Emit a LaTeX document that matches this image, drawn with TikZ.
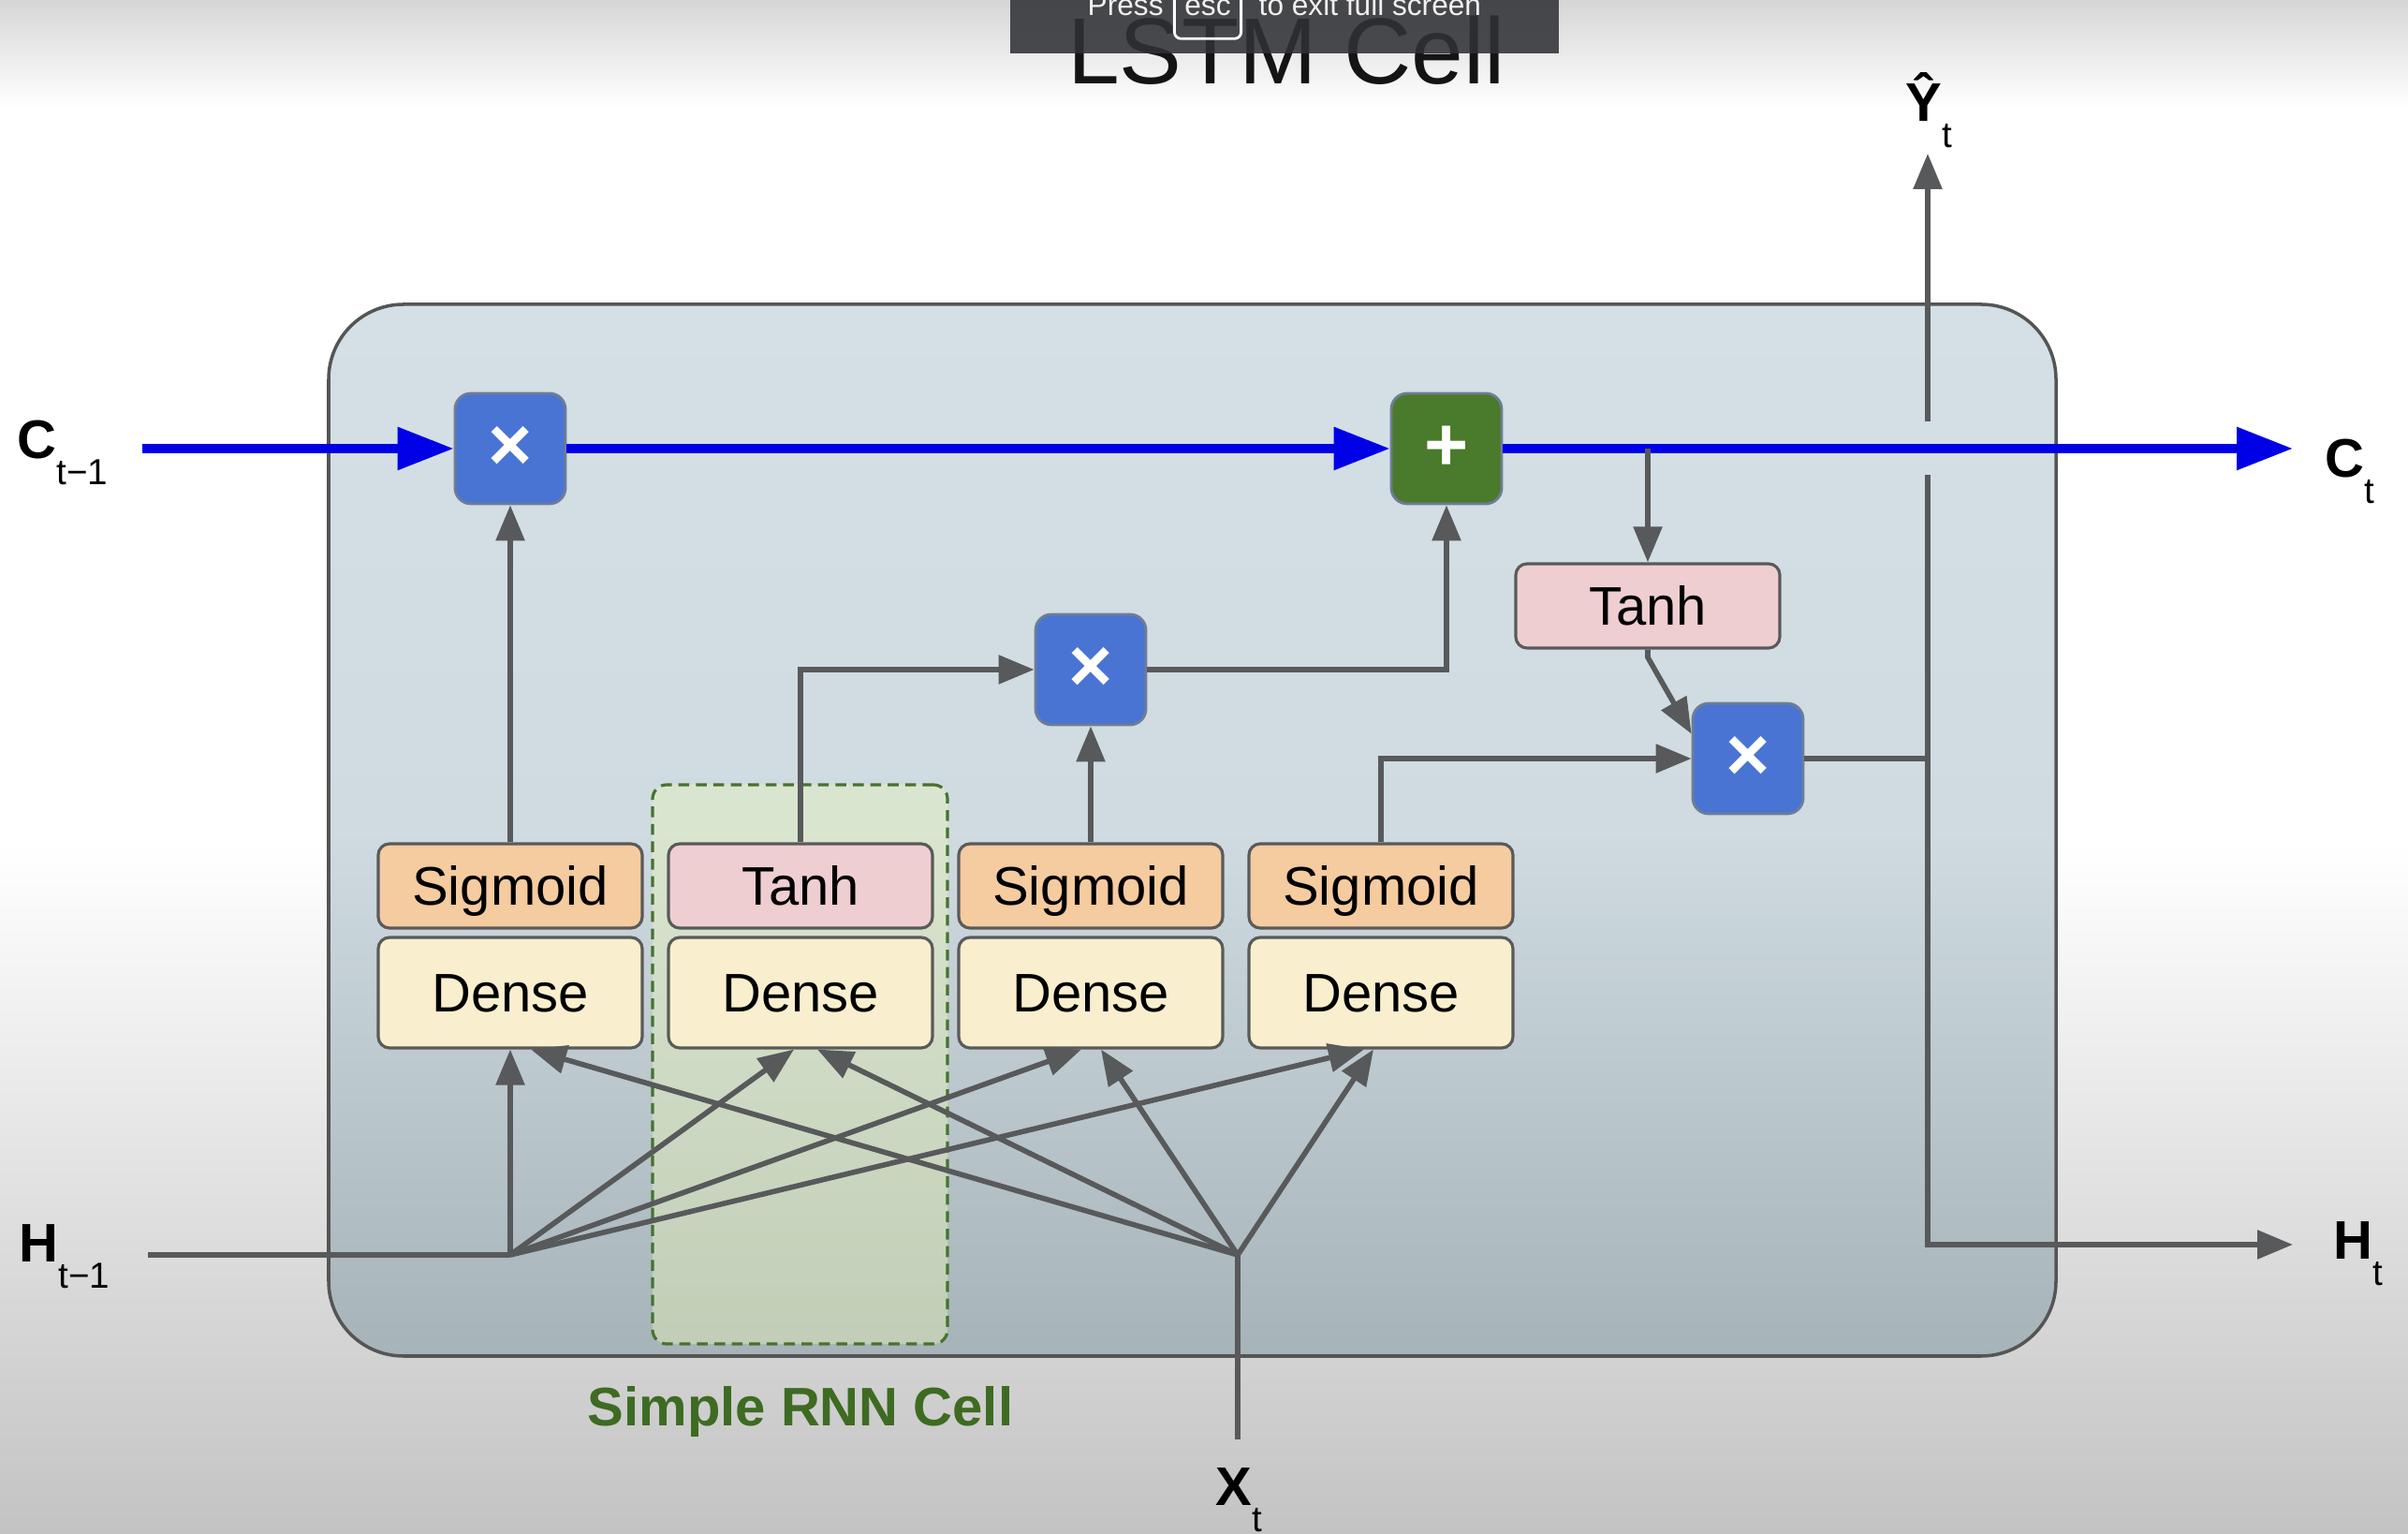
\documentclass[tikz,border=0pt]{standalone}
\usepackage{fontspec}
\setmainfont{Liberation Sans}
\usetikzlibrary{arrows.meta}
\definecolor{cellblue}{RGB}{0,0,230}
\definecolor{arrgray}{RGB}{88,89,91}
\definecolor{boxline}{RGB}{90,90,90}
\definecolor{cellline}{RGB}{85,85,85}
\definecolor{sigfill}{RGB}{245,203,160}
\definecolor{tanhfill}{RGB}{239,206,209}
\definecolor{densefill}{RGB}{249,239,206}
\definecolor{mulfill}{RGB}{73,116,212}
\definecolor{addfill}{RGB}{74,122,43}
\definecolor{opline}{RGB}{110,125,150}
\definecolor{celltop}{RGB}{212,224,230}
\definecolor{cellmid}{RGB}{207,219,225}
\definecolor{cellbot}{RGB}{166,179,184}
\definecolor{rnnfill}{RGB}{235,245,180}
\definecolor{rnnline}{RGB}{70,115,45}
\definecolor{rnntext}{RGB}{62,107,34}
\definecolor{pagetop}{RGB}{214,214,214}
\definecolor{pagebot}{RGB}{195,195,195}
\definecolor{ovfill}{RGB}{48,49,54}
\definecolor{ovtext}{RGB}{240,240,240}
\definecolor{titlek}{RGB}{20,20,20}
\pgfdeclareverticalshading{pagebg}{100bp}{color(0bp)=(pagebot); color(25bp)=(pagebot); color(47.5bp)=(white); color(71.5bp)=(white); color(75bp)=(pagetop); color(100bp)=(pagetop)}
\newcommand{\sublbl}[2]{\textbf{#1}\raisebox{-0.28cm}{\fontsize{11}{12}\selectfont #2}}

\begin{document}
\begin{tikzpicture}[font=\fontsize{16.5}{18}\selectfont, >={Triangle[length=0.38cm,width=0.3cm]},
    box/.style={draw=boxline, line width=0.9pt, rounded corners=0.12cm, minimum width=2.82cm, inner sep=0, text height=0.415cm, text depth=0cm},
    sig/.style={box, minimum height=0.9cm, fill=sigfill},
    tnh/.style={box, minimum height=0.9cm, fill=tanhfill},
    dns/.style={box, minimum height=1.18cm, fill=densefill},
    op/.style={draw=opline, line width=0.8pt, rounded corners=0.17cm, minimum size=1.18cm, inner sep=0, text=white, font=\bfseries\fontsize{23}{23}\selectfont},
    mulop/.style={op, fill=mulfill}, addop/.style={op, fill=addfill},
    wire/.style={draw=arrgray, line width=1.6pt},
    arr/.style={wire, ->},
    cst/.style={draw=cellblue, line width=2.6pt, -{Triangle[length=0.6cm,width=0.44cm]}},
    lbl/.style={inner sep=0, anchor=base west, font=\fontsize{16.5}{17}\selectfont},
    ovtxt/.style={inner sep=0, text=ovtext, font=\fontsize{9}{10}\selectfont}]
  \useasboundingbox (0,0) rectangle (25.72,-16.38);
  \shade[shading=pagebg] (0,0) rectangle (25.72,-16.38);
  \node[anchor=base, font=\fontsize{28.5}{30}\selectfont, text=titlek] (title) at (13.74,-0.90) {LSTM Cell};
  \fill[ovfill, fill opacity=0.87] (10.79,0.1) rectangle (16.65,-0.57);
  \node[ovtxt, anchor=base west] (press) at (11.61,-0.17) {Press};
  \node[ovtxt, anchor=base, draw=white, line width=0.8pt, rounded corners=2pt, inner xsep=0.11cm, inner ysep=0.24cm] (esc) at (12.90,-0.17) {esc};
  \node[ovtxt, anchor=base west] (exitmsg) at (13.44,-0.17) {to exit full screen};
  \node[draw=cellline, line width=1pt, rounded corners=0.8cm, minimum width=18.45cm, minimum height=11.23cm,
    top color=celltop, bottom color=cellbot, middle color=cellmid] (cell) at (12.735,-8.865) {};
  \node[draw=rnnline, line width=0.9pt, dash pattern=on 3.3pt off 2pt, rounded corners=0.15cm, fill=rnnfill, fill opacity=0.4,
    minimum width=3.15cm, minimum height=5.97cm] (rnn) at (8.545,-11.365) {};
  \node[anchor=base, text=rnntext, font=\bfseries\fontsize{16.5}{18}\selectfont] (rnnlbl) at (8.55,-15.22) {Simple RNN Cell};
  \node[sig] (sig1) at (5.45,-9.46)  {Sigmoid};
  \node[tnh] (tnh1) at (8.55,-9.46)  {Tanh};
  \node[sig] (sig2) at (11.65,-9.46) {Sigmoid};
  \node[sig] (sig3) at (14.75,-9.46) {Sigmoid};
  \node[dns] (den1) at (5.45,-10.60)  {Dense};
  \node[dns] (den2) at (8.55,-10.60)  {Dense};
  \node[dns] (den3) at (11.65,-10.60) {Dense};
  \node[dns] (den4) at (14.75,-10.60) {Dense};
  \node[mulop] (mulf) at (5.45,-4.79)  {×};
  \node[addop] (addg) at (15.45,-4.79) {+};
  \node[mulop] (muli) at (11.65,-7.15) {×};
  \node[mulop] (mulo) at (18.67,-8.10) {×};
  \node[tnh] (tnhc) at (17.60,-6.47) {Tanh};
  \coordinate (cin)  at (1.52,-4.79);
  \coordinate (cout) at (24.49,-4.79);
  \coordinate (tap)  at (17.60,-4.79);
  \coordinate (hin)  at (1.58,-13.40);
  \coordinate (hj)   at (5.45,-13.40);
  \coordinate (xin)  at (13.22,-15.37);
  \coordinate (xj)   at (13.22,-13.40);
  \coordinate (oj)   at (20.59,-8.10);
  \coordinate (gapb) at (20.59,-5.07);
  \coordinate (gapt) at (20.59,-4.50);
  \coordinate (ytip) at (20.59,-1.64);
  \coordinate (hout) at (24.49,-13.29);
  \node[lbl] (clast) at (0.18,-4.90)   {\sublbl{C}{t−1}};
  \node[lbl] (cnext) at (24.83,-5.10)  {\sublbl{C}{t}};
  \node[lbl] (hlast) at (0.20,-13.47)  {\sublbl{H}{t−1}};
  \node[lbl] (hnext) at (24.92,-13.45) {\sublbl{H}{t}};
  \node[lbl] (xnow)  at (12.98,-16.07) {\sublbl{X}{t}};
  \node[lbl] (ynow)  at (20.35,-1.30)  {\sublbl{Ŷ}{t}};
  \draw[cst] (cin) -- (mulf);
  \draw[cst] (mulf) -- (addg);
  \draw[cst] (addg) -- (cout);
  \draw[arr] (sig1) -- (mulf);
  \draw[arr] (tnh1) |- (muli);
  \draw[arr] (sig2) -- (muli);
  \draw[arr] (muli) -| (addg);
  \draw[arr] (sig3) |- (mulo);
  \draw[arr] (tap) -- (tnhc);
  \draw[arr] (tnhc) -- ++(0,-0.55) -- ([yshift=-0.34cm]mulo.north west);
  \draw[wire] (mulo) -- (oj);
  \draw[wire] (oj) -- (gapb);
  \draw[arr] (gapt) -- (ytip);
  \draw[arr] (oj) |- (hout);
  \draw[wire] (hin) -- (hj);
  \draw[arr] (hj) -- (den1);
  \draw[arr] (hj) -- ([xshift=-0.07cm]den2.south);
  \draw[arr] (hj) -- ([xshift=-0.10cm]den3.south);
  \draw[arr] (hj) -- ([xshift=-0.18cm]den4.south);
  \draw[wire] (xin) -- (xj);
  \draw[arr] (xj) -- ([xshift=0.22cm]den1.south);
  \draw[arr] (xj) -- ([xshift=0.18cm]den2.south);
  \draw[arr] (xj) -- ([xshift=0.11cm]den3.south);
  \draw[arr] (xj) -- ([xshift=-0.08cm]den4.south);
\end{tikzpicture}
\end{document}
